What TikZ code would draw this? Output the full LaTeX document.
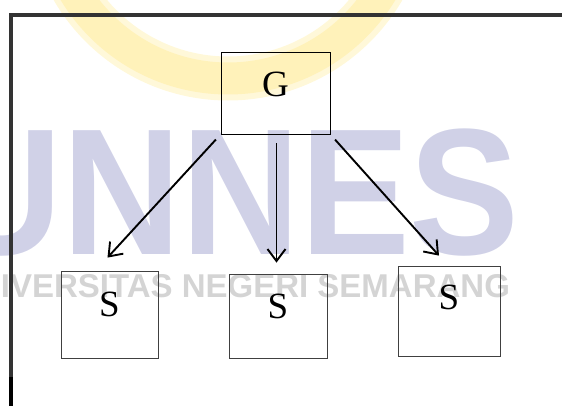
\documentclass[tikz,border=0pt]{standalone}
\usepackage{fontspec}
\setmainfont{Liberation Serif}
\setsansfont{Liberation Sans}
\usetikzlibrary{arrows.meta}
\definecolor{markblue}{RGB}{208,209,231}
\definecolor{markgold}{RGB}{255,242,186}
\definecolor{markgrey}{RGB}{212,212,212}
\tikzset{box/.style={draw, rectangle, inner sep=0pt, line width=0.8pt,
      font=\fontsize{37}{40}\selectfont}}
\tikzset{sbox/.style={box, draw=black!75}}
\tikzset{arr/.style={line width=1.9pt,
      -{Straight Barb[length=12pt,width=18pt,line width=1.9pt]}}}
\tikzset{frame/.style={line width=4pt, black!80}}

\begin{document}
\begin{tikzpicture}[x=1pt,y=-1pt]
    \useasboundingbox (0,0) rectangle (562,406);
    % faint seal in the back
    \begin{scope}
      \clip (0,0) rectangle (562,406);
      \draw[markgold!55, line width=44pt] (228,-101) circle (179.5pt);
      \draw[markgold, line width=32pt] (228,-101) circle (179.5pt);
    \end{scope}
    \node[anchor=base east, inner sep=0pt, text=markblue, xscale=0.915,
      font=\sffamily\bfseries\fontsize{180}{180}\selectfont] (mark) at (520,254) {UNNES};
    \node[anchor=base west, inner sep=0pt, text=markgrey,
      font=\sffamily\bfseries\fontsize{33}{33}\selectfont] (tagline) at (-47,297)
      {UNIVERSITAS NEGERI SEMARANG};
    % frame
    \draw[frame] (562,15) -- (11,15) -- (11,406);
    \draw[line width=4pt, black] (11,377) -- (11,406);
    % boxes
    \node[box, minimum width=109pt, minimum height=82pt, text depth=17pt] (g) at (275.5,93) {G};
    \node[sbox, minimum width=97pt, minimum height=87pt, text depth=21pt] (s1) at (109.5,314.5) {S};
    \node[sbox, minimum width=98pt, minimum height=84pt, text depth=20pt] (s2) at (278,316) {S};
    \node[sbox, minimum width=102pt, minimum height=90pt, text depth=27pt] (s3) at (449,311) {S};
    \coordinate (t1) at ([xshift=-2pt,yshift=13pt]s1.north);
    \coordinate (t2) at ([xshift=-1.5pt,yshift=11pt]s2.north);
    \coordinate (t3) at ([xshift=-10pt,yshift=10pt]s3.north);
    \draw[arr, shorten <=7pt] (g.south west) -- (t1);
    \draw[arr, shorten <=9pt] ([xshift=1pt]g.south) -- (t2);
    \draw[arr, shorten <=7pt] (g.south east) -- (t3);
\end{tikzpicture}
\end{document}
